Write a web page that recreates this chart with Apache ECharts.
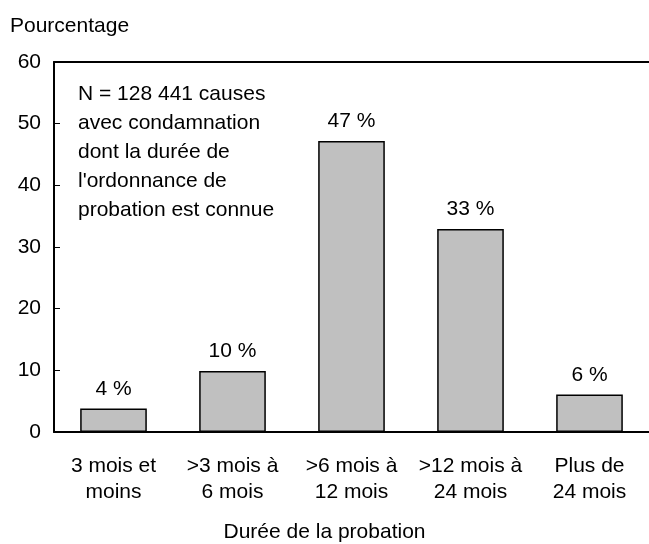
<!DOCTYPE html>
<html>
<head>
<meta charset="utf-8">
<script src="https://cdn.jsdelivr.net/npm/echarts@6/dist/echarts.min.js"></script>
<style>
  html, body { margin: 0; padding: 0; background: #fff; }
  #chart { width: 649px; height: 544px; }
</style>
</head>
<body>
<div id="chart"></div>
<script>
const categories = ['3 mois et\nmoins', '>3 mois à\n6 mois', '>6 mois à\n12 mois', '>12 mois à\n24 mois', 'Plus de\n24 mois'];
const values = [3.8, 9.9, 47.2, 32.9, 6.1];
const valueLabels = ['4 %', '10 %', '47 %', '33 %', '6 %'];
const yTicks = [0, 10, 20, 30, 40, 50, 60];
const noteLines = ['N = 128 441 causes', 'avec condamnation', 'dont la durée de', "l'ordonnance de", 'probation est connue'];
const yTitle = 'Pourcentage';
const xTitle = 'Durée de la probation';

const FONT = 'Liberation Sans, Arial, sans-serif';
const FS = 21;
const chart = echarts.init(document.getElementById('chart'), null, { renderer: 'canvas' });
chart.setOption({
  animation: false,
  backgroundColor: '#fff',
  textStyle: { fontFamily: FONT },
  grid: { left: 54, top: 62, right: 0, bottom: 112 },
  graphic: [
    { type: 'text', left: 10, top: 16, style: { text: yTitle, font: FS + 'px ' + FONT, fill: '#000' } },
    { type: 'text', left: 78, top: 80, style: { text: noteLines.join('\n'), font: FS + 'px ' + FONT, lineHeight: 29, fill: '#000' } },
    { type: 'text', left: 'center', top: 522, style: { text: xTitle, font: FS + 'px ' + FONT, fill: '#000' } }
  ],
  xAxis: [{
    type: 'category',
    data: categories,
    axisLine: { lineStyle: { color: '#000', width: 2 } },
    axisTick: { show: false },
    axisLabel: { color: '#000', fontSize: FS, fontFamily: FONT, lineHeight: 26, margin: 21, interval: 0 }
  }, {
    type: 'category',
    data: categories,
    position: 'top',
    axisLine: { show: true, lineStyle: { color: '#000', width: 2 } },
    axisTick: { show: false },
    axisLabel: { show: false }
  }],
  yAxis: {
    type: 'value',
    min: yTicks[0], max: yTicks[yTicks.length - 1], interval: 10,
    axisLine: { show: true, lineStyle: { color: '#000', width: 2 } },
    axisTick: { show: true, inside: true, length: 6, lineStyle: { color: '#000', width: 1 } },
    splitLine: { show: false },
    axisLabel: { color: '#000', fontSize: FS, fontFamily: FONT, margin: 13 }
  },
  series: [{
    type: 'bar',
    data: values,
    barWidth: '56%',
    itemStyle: { color: '#c0c0c0', borderColor: '#000', borderWidth: 1.5 },
    label: {
      show: true, position: 'top', distance: 9, color: '#000', fontSize: FS, fontFamily: FONT,
      formatter: p => valueLabels[p.dataIndex]
    }
  }]
});
</script>
</body>
</html>
